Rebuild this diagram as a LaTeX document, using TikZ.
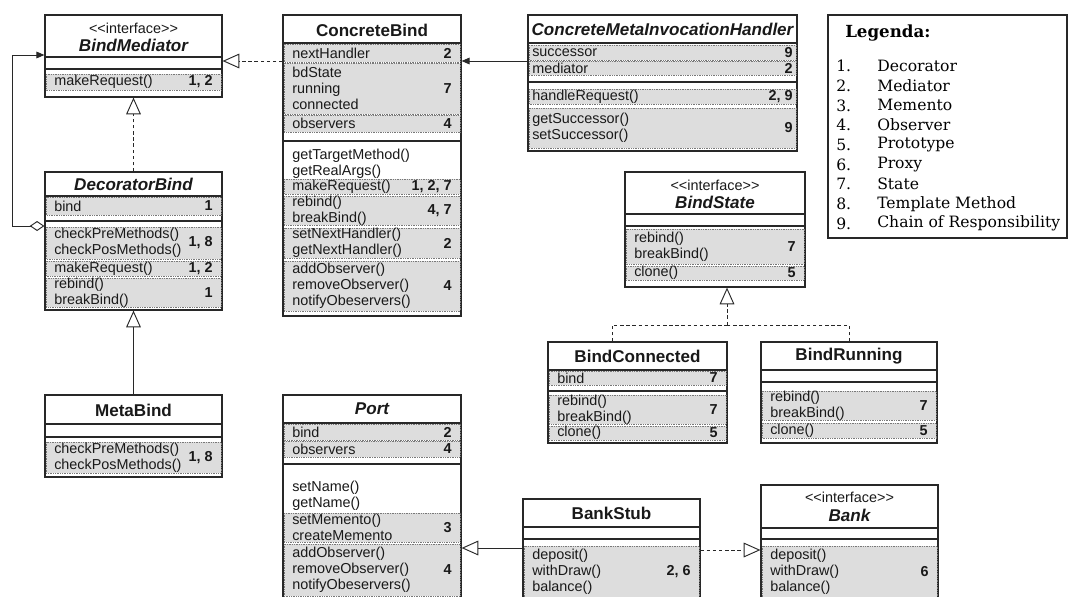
\documentclass[tikz,border=0pt]{standalone}
\usepackage{fontspec}
\setmainfont{Liberation Sans}
\newfontfamily\legendfont{DejaVu Serif}
\usetikzlibrary{arrows.meta, fit}

\definecolor{rowgray}{RGB}{221,221,221}
\definecolor{dotgray}{RGB}{120,120,120}
\definecolor{boxline}{RGB}{40,40,40}
\definecolor{txtcol}{RGB}{25,25,25}

\tikzset{
  umlbox/.style={draw=boxline, line width=0.9pt, inner sep=0pt},
  sepline/.style={draw=boxline, line width=0.8pt},
  rowbox/.style={fill=rowgray, draw=dotgray, line width=0.45pt, dash pattern=on 0.5pt off 0.8pt},
  rowtext/.style={font=\fontsize{10.8}{12}\selectfont, text=txtcol, align=left, inner sep=0pt},
  rownum/.style={font=\fontsize{10.8}{12}\selectfont\bfseries, text=txtcol, inner sep=0pt},
  ctitle/.style={font=\fontsize{12.8}{14}\selectfont\bfseries, text=txtcol, inner sep=0pt},
  ititle/.style={font=\fontsize{12.8}{14}\selectfont\bfseries\itshape, text=txtcol, inner sep=0pt},
  stereo/.style={font=\fontsize{10.8}{12}\selectfont, text=txtcol, inner sep=0pt},
  dashline/.style={draw=boxline, line width=0.7pt, dash pattern=on 2.6pt off 2pt},
  realize/.style={dashline, -{Triangle[open, length=12.5pt, width=11pt, line width=0.7pt, fill=white]}},
  inherit/.style={draw=boxline, line width=0.7pt, -{Triangle[open, length=12.5pt, width=11pt, line width=0.7pt, fill=white]}},
  assoc/.style={draw=boxline, line width=0.7pt, -{Triangle[length=6pt, width=5pt]}},
  aggr/.style={draw=boxline, line width=0.7pt, {Diamond[open, length=11pt, width=7.5pt, line width=0.7pt, fill=white]}-{Triangle[length=6pt, width=5pt]}},
  legtext/.style={font=\legendfont\fontsize{11.7}{13}\selectfont, anchor=west, inner sep=0pt}
}

% shaded row of a class: left x, right x, top y, bottom y, text, pattern numbers
\def\rowpad{9}
\newcommand{\classrow}[6]{%
  \draw[rowbox] ({#1+1},#3) rectangle ({#2-1},#4);
  \node[rowtext, anchor=west] at ({#1+\rowpad},{(#3+#4)/2}) {#5};
  \node[rownum, anchor=east] at ({#2-\rowpad},{(#3+#4)/2}) {#6};}
\newcommand{\stereotext}{<{}<interface>{}>}

\begin{document}
\begin{tikzpicture}[x=0.75pt, y=-0.75pt]
\fill[white] (0,0) rectangle (1069,596);
\clip (0,0) rectangle (1069,596);

%% BindMediator
\node[umlbox, fit={(45,15) (222,97)}] (bm) {};
\node[stereo] at (133.5,28) {\stereotext};
\node[ititle] at (133.5,45) {BindMediator};
\draw[sepline] (45,57) -- (222,57) (45,69) -- (222,69);
\classrow{45}{222}{74}{90}{makeRequest()}{1, 2}

%% DecoratorBind
\node[umlbox, fit={(45,172) (222,310)}] (db) {};
\node[ititle] at (133.5,184) {DecoratorBind};
\draw[sepline] (45,196) -- (222,196) (45,221) -- (222,221);
\classrow{45}{222}{197}{215}{bind}{1}
\classrow{45}{222}{227}{259}{checkPreMethods()\\checkPosMethods()}{1, 8}
\classrow{45}{222}{261}{276}{makeRequest()}{1, 2}
\classrow{45}{222}{278}{307}{rebind()\\breakBind()}{1}

%% MetaBind
\node[umlbox, fit={(45,395) (222,477)}] (mb) {};
\node[ctitle] at (133.5,410) {MetaBind};
\draw[sepline] (45,424) -- (222,424) (45,437) -- (222,437);
\classrow{45}{222}{442}{473}{checkPreMethods()\\checkPosMethods()}{1, 8}

%% ConcreteBind
\node[umlbox, fit={(283,15) (461,316)}] (cb) {};
\node[ctitle] at (372,30) {ConcreteBind};
\draw[sepline] (283,43) -- (461,43) (283,141) -- (461,141);
\classrow{283}{461}{44}{62}{nextHandler}{2}
\classrow{283}{461}{63}{114}{bdState\\running\\connected}{7}
\classrow{283}{461}{115}{132}{observers}{4}
\node[rowtext, anchor=west] at (292,164) {getTargetMethod()\\getRealArgs()};
\classrow{283}{461}{179}{194}{makeRequest()}{1, 2, 7}
\classrow{283}{461}{196}{225}{rebind()\\breakBind()}{4, 7}
\classrow{283}{461}{228}{258}{setNextHandler()\\getNextHandler()}{2}
\classrow{283}{461}{261}{311}{addObserver()\\removeObserver()\\notifyObeservers()}{4}

%% ConcreteMetaInvocationHandler
\def\rowpad{4}
\node[umlbox, fit={(528,15) (797,151)}] (cmih) {};
\node[ititle] at (662.5,29) {ConcreteMetaInvocationHandler};
\draw[sepline] (528,43) -- (797,43) (528,82) -- (797,82);
\classrow{528}{797}{45}{60}{successor}{9}
\classrow{528}{797}{61}{75}{mediator}{2}
\classrow{528}{797}{89}{104}{handleRequest()}{2, 9}
\classrow{528}{797}{108}{148}{getSuccessor()\\setSuccessor()}{9}
\def\rowpad{9}

%% Legend
\node[umlbox, fit={(828,15) (1067,238)}] (leg) {};
\node[legtext, font=\legendfont\bfseries\fontsize{12.5}{14}\selectfont] at (845,33) {Legenda:};
\foreach [count=\i] \pname in {Decorator, Mediator, Memento, Observer, Prototype, Proxy, State, Template Method, Chain of Responsibility}
  {\node[legtext] at (836,{46.3+19.7*\i}) {\i.};
   \node[legtext] at (877,{46.3+19.7*\i}) {\pname};}

%% BindState
\node[umlbox, fit={(625,172) (805,287)}] (bs) {};
\node[stereo] at (715,185) {\stereotext};
\node[ititle] at (715,202) {BindState};
\draw[sepline] (625,214) -- (805,214) (625,226) -- (805,226);
\classrow{625}{805}{229}{264}{rebind()\\breakBind()}{7}
\classrow{625}{805}{266}{280}{clone()}{5}

%% BindConnected
\node[umlbox, fit={(548,342) (727,443)}] (bc) {};
\node[ctitle] at (637.5,356) {BindConnected};
\draw[sepline] (548,370) -- (727,370) (548,391) -- (727,391);
\classrow{548}{727}{371}{385}{bind}{7}
\classrow{548}{727}{395}{424}{rebind()\\breakBind()}{7}
\classrow{548}{727}{426}{440}{clone()}{5}

%% BindRunning
\node[umlbox, fit={(761,342) (937,443)}] (br) {};
\node[ctitle] at (849,356) {BindRunning};
\draw[sepline] (761,370) -- (937,370) (761,382) -- (937,382);
\classrow{761}{937}{391}{420}{rebind()\\breakBind()}{7}
\classrow{761}{937}{423}{438}{clone()}{5}

%% Port
\node[umlbox, fit={(283,395) (461,610)}] (port) {};
\node[ititle] at (372,409) {Port};
\draw[sepline] (283,423) -- (461,423) (283,464) -- (461,464);
\classrow{283}{461}{424}{440}{bind}{2}
\classrow{283}{461}{441}{457}{observers}{4}
\node[rowtext, anchor=west] at (292,496) {setName()\\getName()};
\classrow{283}{461}{513}{542}{setMemento()\\createMemento}{3}
\classrow{283}{461}{544}{596}{addObserver()\\removeObserver()\\notifyObeservers()}{4}

%% BankStub
\node[umlbox, fit={(523,499) (700,610)}] (bks) {};
\node[ctitle] at (611.5,513) {BankStub};
\draw[sepline] (523,527) -- (700,527) (523,539) -- (700,539);
\classrow{523}{700}{546}{597}{deposit()\\withDraw()\\balance()}{2, 6}

%% Bank
\node[umlbox, fit={(761,485) (938,610)}] (bank) {};
\node[stereo] at (849.5,497) {\stereotext};
\node[ititle] at (849.5,515) {Bank};
\draw[sepline] (761,528) -- (938,528) (761,539) -- (938,539);
\classrow{761}{938}{546}{597}{deposit()\\withDraw()\\balance()}{6}

%% connectors
\coordinate (loop) at (12,55);
\coordinate (bsfork) at (727,325);
\draw[assoc] (cmih.west |- 0,61) -- (cb.east |- 0,61);
\draw[realize] (cb.west |- 0,61) -- (bm.east |- 0,61);
\draw[realize] (db.north) -- (bm.south);
\draw[inherit] (mb.north) -- (db.south);
\draw[aggr] (db.west |- 0,226) -| (loop) -- (bm.west |- loop);
\draw[dashline] (bc.north -| 612,0) |- (bsfork);
\draw[dashline] (br.north) |- (bsfork);
\draw[realize] (bsfork) -- (bs.south -| bsfork);
\draw[inherit] (bks.west |- 0,548) -- (port.east |- 0,548);
\draw[realize] (bks.east |- 0,550) -- (bank.west |- 0,550);
\end{tikzpicture}
\end{document}
